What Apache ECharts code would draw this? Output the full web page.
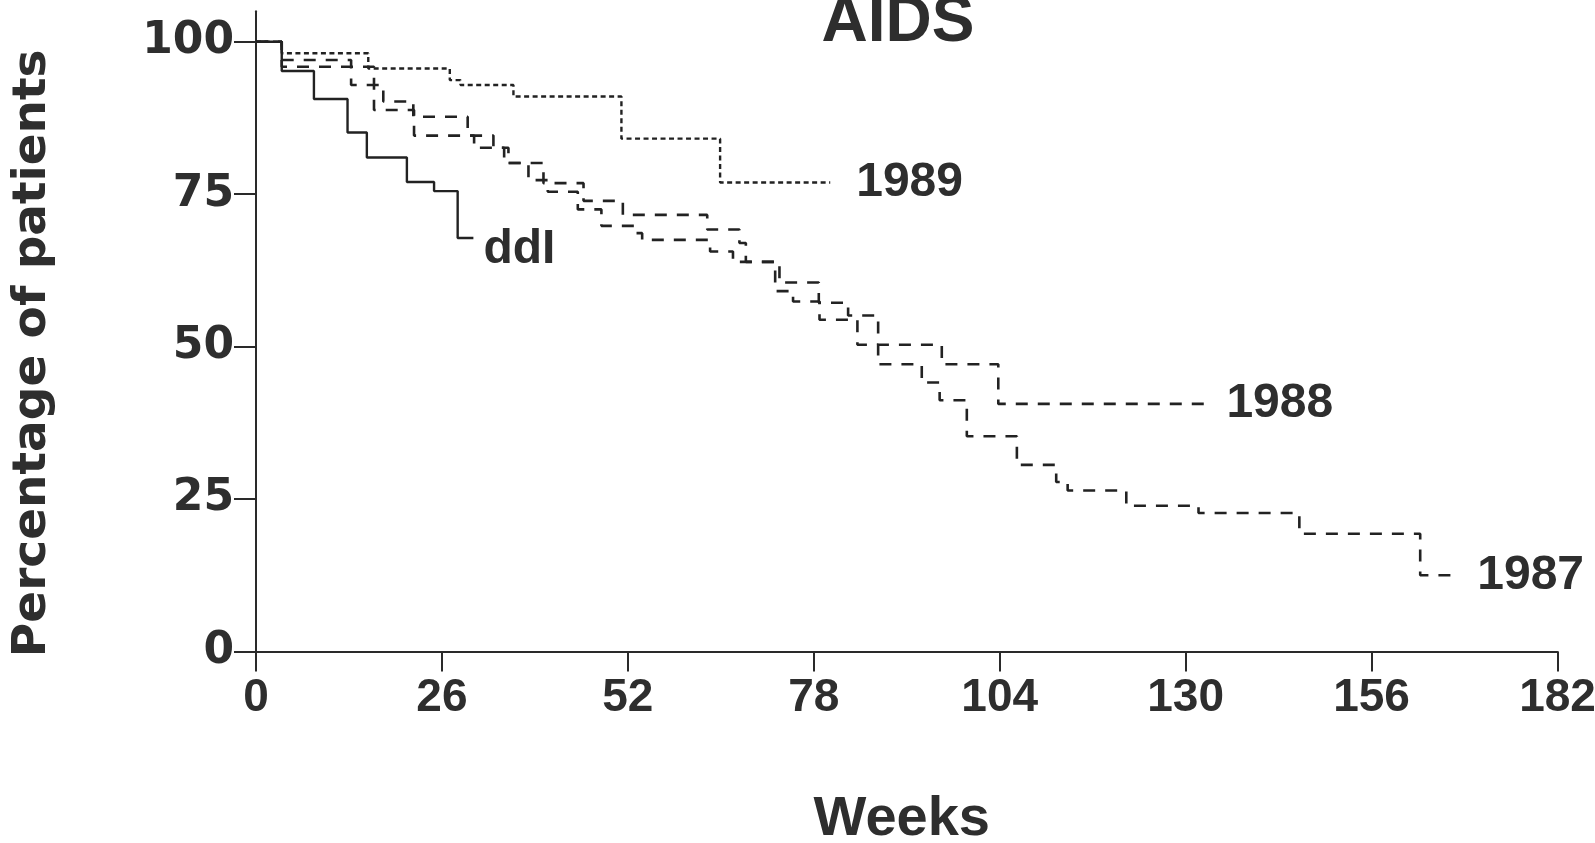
<!DOCTYPE html>
<html>
<head>
<meta charset="utf-8">
<title>AIDS</title>
<script src="https://cdn.jsdelivr.net/npm/echarts@6/dist/echarts.min.js"></script>
<style>
  html, body { margin: 0; padding: 0; background: #ffffff; }
  #chart { width: 1595px; height: 843px; }
</style>
</head>
<body>
<div id="chart"></div>
<script>
// Kaplan-Meier style curves: [week, percentage of patients]
const ddiCurve = [
  [0, 100], [3.6, 95.2], [8.1, 90.6], [12.8, 85.1], [15.5, 81.0],
  [21.1, 77.0], [24.9, 75.5], [28.2, 67.8], [30.4, 67.8]
];
const curve1989 = [
  [0, 100], [3.6, 98.1], [15.7, 95.6], [27.1, 93.7], [28.6, 92.9],
  [36.0, 91.0], [51.1, 84.1], [64.9, 76.9], [80.3, 76.9]
];
const curve1988 = [
  [0, 100], [3.6, 97.0], [13.3, 92.9], [17.8, 90.2], [22.0, 87.7],
  [29.6, 84.6], [33.2, 82.6], [35.3, 80.1], [40.2, 76.8], [45.8, 73.9],
  [51.3, 71.6], [63.1, 69.2], [67.6, 67.0], [68.5, 63.9], [73.2, 60.5],
  [78.7, 57.2], [82.8, 55.1], [87.0, 50.3], [95.9, 47.1], [103.8, 40.6],
  [132.9, 40.6]
];
const curve1987 = [
  [0, 100], [3.6, 95.9], [16.5, 88.8], [22.1, 84.6], [30.5, 82.6],
  [34.7, 80.1], [38.1, 77.3], [40.8, 75.4], [45.0, 72.5], [48.3, 69.8],
  [53.0, 68.6], [54.0, 67.5], [63.5, 65.6], [66.7, 63.9], [72.6, 59.1],
  [75.1, 57.4], [78.8, 54.4], [84.1, 50.3], [87.0, 47.1], [93.1, 44.1],
  [95.6, 41.2], [99.4, 35.3], [106.4, 30.6], [111.9, 27.8], [113.5, 26.4],
  [121.7, 23.9], [131.8, 22.7], [145.9, 19.3], [162.8, 12.5], [167.7, 12.5]
];

const seriesNames = ['ddI', '1989', '1988', '1987'];
const weekTicks = [0, 26, 52, 78, 104, 130, 156, 182];
const percentTicks = [0, 25, 50, 75, 100];

const ink = '#2e2e2e';
const font = 'Liberation Sans, Arial, Helvetica, sans-serif';
const wideFont = 'DejaVu Sans, Verdana, sans-serif';

const chart = echarts.init(document.getElementById('chart'), null, { renderer: 'canvas' });

function curveSeries(name, data, lineType, width, labelOffset, labelDistance) {
  return {
    name: name,
    type: 'line',
    step: 'end',
    data: data,
    symbol: 'none',
    silent: true,
    animation: false,
    lineStyle: { color: '#222222', width: width, type: lineType },
    endLabel: {
      show: true,
      formatter: name,
      distance: labelDistance,
      offset: labelOffset,
      color: ink,
      fontFamily: font,
      fontWeight: 'bold',
      fontSize: 48
    }
  };
}

chart.setOption({
  backgroundColor: '#ffffff',
  animation: false,
  title: {
    text: 'AIDS',
    left: 893,
    textAlign: 'center',
    top: -14,
    textStyle: { color: ink, fontFamily: font, fontWeight: 'bold', fontSize: 64 }
  },
  grid: { left: 256, right: 37.5, top: 11.2, bottom: 191.5, containLabel: false, outerBoundsMode: 'none' },
  xAxis: {
    type: 'value',
    min: weekTicks[0],
    max: weekTicks[weekTicks.length - 1],
    interval: 26,
    name: 'Weeks',
    nameLocation: 'middle',
    nameGap: 140,
    nameTextStyle: { color: ink, fontFamily: font, fontWeight: 'bold', fontSize: 56, padding: [0, 10, 0, 0] },
    axisLine: { show: true, onZero: false, lineStyle: { color: '#2a2a2a', width: 2 } },
    axisTick: { show: true, inside: false, length: 20, lineStyle: { color: '#2a2a2a', width: 2 } },
    axisLabel: { color: ink, fontFamily: font, fontWeight: 'bold', fontSize: 46, margin: 24 },
    splitLine: { show: false }
  },
  yAxis: {
    type: 'value',
    min: 0,
    max: 105,
    name: 'Percentage of patients',
    nameLocation: 'middle',
    nameGap: 200,
    nameRotate: 90,
    nameTextStyle: { color: ink, fontFamily: wideFont, fontWeight: 'bold', fontSize: 47, padding: [0, 44, 0, 0] },
    axisLine: { show: true, onZero: false, lineStyle: { color: '#2a2a2a', width: 2 } },
    axisTick: { show: true, inside: false, length: 22, customValues: percentTicks, lineStyle: { color: '#2a2a2a', width: 2 } },
    axisLabel: { color: ink, fontFamily: wideFont, fontWeight: 'bold', fontSize: 44, margin: 22, customValues: percentTicks },
    splitLine: { show: false }
  },
  series: [
    curveSeries(seriesNames[0], ddiCurve, 'solid', 2.4, [0, 12], 10),
    curveSeries(seriesNames[1], curve1989, [5, 3.5], 2.4, [0, 0], 26),
    curveSeries(seriesNames[2], curve1988, [12, 10], 2.6, [0, 0], 20),
    curveSeries(seriesNames[3], curve1987, [12, 10], 2.6, [0, 0], 22)
  ]
});
</script>
</body>
</html>
